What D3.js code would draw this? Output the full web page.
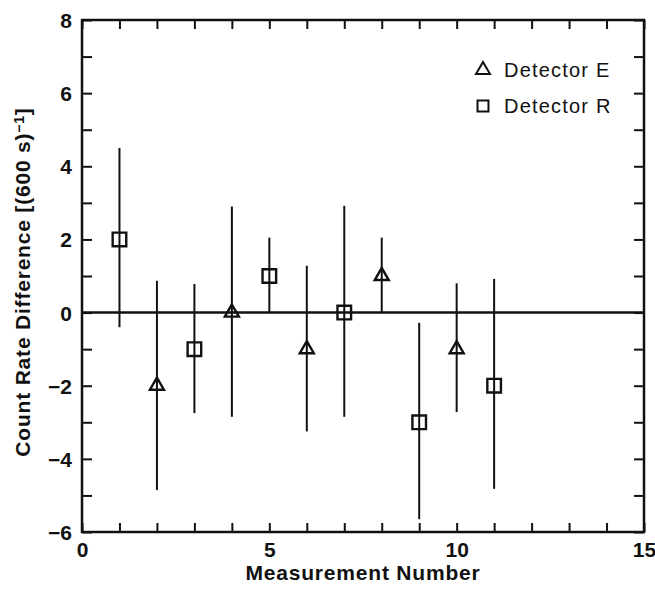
<!DOCTYPE html>
<html>
<head>
<meta charset="utf-8">
<script src="https://cdn.jsdelivr.net/npm/d3@7"></script>
<style>
  body { margin: 0; background: #fff; }
  text { font-family: "Liberation Sans", Arial, sans-serif; fill: #111; }
</style>
</head>
<body>
<div id="graph"></div>
<script>
// detector E (triangles)
var eX = [2, 4, 6, 8, 10]
var eY = [-2, 0, -1, 1, -1]
var eLo = [-4.85, -2.85, -3.25, 0, -2.72]
var eHi = [0.87, 2.9, 1.28, 2.05, 0.8]

// detector R (squares)
var rX = [1, 3, 5, 7, 9, 11]
var rY = [2, -1, 1, 0, -3, -2]
var rLo = [-0.4, -2.75, 0, -2.85, -5.65, -4.82]
var rHi = [4.5, 0.78, 2.05, 2.92, -0.28, 0.92]

var xTicks = d3.range(0, 16, 1)
var xLabels = [0, 5, 10, 15]
var yTicks = d3.range(-6, 9, 1)
var yLabels = [-6, -4, -2, 0, 2, 4, 6, 8]

var width = 655, height = 592
var margin = {top: 20, right: 11, bottom: 60, left: 82}

var svg = d3.select('#graph').append('svg')
  .attr('width', width).attr('height', height)

var x = d3.scaleLinear().domain([0, 15]).range([margin.left, width - margin.right])
var y = d3.scaleLinear().domain([-6, 8]).range([height - margin.bottom, margin.top])

var fmt = d => d < 0 ? '\u2212' + Math.abs(d) : '' + d

var xb = svg.append('g').attr('transform', `translate(0,${y(-6)})`)
  .call(d3.axisBottom(x).tickValues(xTicks).tickSize(-9).tickPadding(6)
    .tickFormat(d => xLabels.includes(d) ? fmt(d) : ''))
var xt = svg.append('g').attr('transform', `translate(0,${y(8)})`)
  .call(d3.axisTop(x).tickValues(xTicks).tickSize(-9).tickFormat(''))
var yl = svg.append('g').attr('transform', `translate(${x(0)},0)`)
  .call(d3.axisLeft(y).tickValues(yTicks).tickSize(-10).tickPadding(10)
    .tickFormat(d => yLabels.includes(d) ? fmt(d) : ''))
var yr = svg.append('g').attr('transform', `translate(${x(15)},0)`)
  .call(d3.axisRight(y).tickValues(yTicks).tickSize(-10).tickFormat(''))

;[xb, xt, yl, yr].forEach(g => {
  g.select('.domain').remove()
  g.selectAll('line').attr('stroke', '#111').attr('stroke-width', 2)
  g.selectAll('text').attr('font-size', 21).attr('font-weight', 'bold')
    .attr('font-family', '"Liberation Sans", Arial, sans-serif').attr('fill', '#111')
})
xb.selectAll('text').attr('dy', '0.9em')
yl.selectAll('text').attr('dy', '0.36em')

svg.append('rect')
  .attr('x', x(0)).attr('y', y(8))
  .attr('width', x(15) - x(0)).attr('height', y(-6) - y(8))
  .attr('fill', 'none').attr('stroke', '#111').attr('stroke-width', 2.5)

// zero line
svg.append('line')
  .attr('x1', x(0)).attr('x2', x(15)).attr('y1', y(0)).attr('y2', y(0))
  .attr('stroke', '#111').attr('stroke-width', 2.5)

var eData = eX.map((d, i) => ({x: d, y: eY[i], lo: eLo[i], hi: eHi[i]}))
var rData = rX.map((d, i) => ({x: d, y: rY[i], lo: rLo[i], hi: rHi[i]}))

svg.append('g').selectAll('line')
  .data(eData.concat(rData)).join('line')
  .attr('x1', d => x(d.x)).attr('x2', d => x(d.x))
  .attr('y1', d => y(d.lo)).attr('y2', d => y(d.hi))
  .attr('stroke', '#111').attr('stroke-width', 2)

var tri = d3.symbol().type(d3.symbolTriangle).size(85)
var sq = d3.symbol().type(d3.symbolSquare).size(185)

svg.append('g').selectAll('path')
  .data(eData).join('path')
  .attr('d', tri)
  .attr('transform', d => `translate(${x(d.x)},${y(d.y)})`)
  .attr('fill', 'none').attr('stroke', '#111').attr('stroke-width', 2.4)

svg.append('g').selectAll('path')
  .data(rData).join('path')
  .attr('d', sq)
  .attr('transform', d => `translate(${x(d.x)},${y(d.y)})`)
  .attr('fill', 'none').attr('stroke', '#111').attr('stroke-width', 2.4)

// legend
var legend = [{sym: tri, label: 'Detector E'}, {sym: d3.symbol().type(d3.symbolSquare).size(120), label: 'Detector R'}]
var lg = svg.append('g').attr('transform', 'translate(483,70)')
lg.selectAll('path').data(legend).join('path')
  .attr('d', d => d.sym())
  .attr('transform', (d, i) => `translate(0,${i * 36})`)
  .attr('fill', 'none').attr('stroke', '#111').attr('stroke-width', 2)
lg.selectAll('text').data(legend).join('text')
  .attr('x', 21).attr('y', (d, i) => i * 36 + 7)
  .attr('font-size', 20).attr('letter-spacing', 1.2)
  .text(d => d.label)

// axis titles
svg.append('text')
  .attr('x', (x(0) + x(15)) / 2).attr('y', 580)
  .attr('text-anchor', 'middle').attr('font-size', 21).attr('font-weight', 'bold')
  .attr('letter-spacing', 0.8)
  .text('Measurement Number')

var yt = svg.append('text')
  .attr('transform', `translate(30,${(y(-6) + y(8)) / 2 + 6}) rotate(-90)`)
  .attr('text-anchor', 'middle').attr('font-size', 21).attr('font-weight', 'bold')
  .attr('letter-spacing', 0.8)
yt.append('tspan').text('Count Rate Difference [(600 s)')
yt.append('tspan').attr('baseline-shift', '40%').attr('font-size', 14).text('\u22121')
yt.append('tspan').text(']')
</script>
</body>
</html>
